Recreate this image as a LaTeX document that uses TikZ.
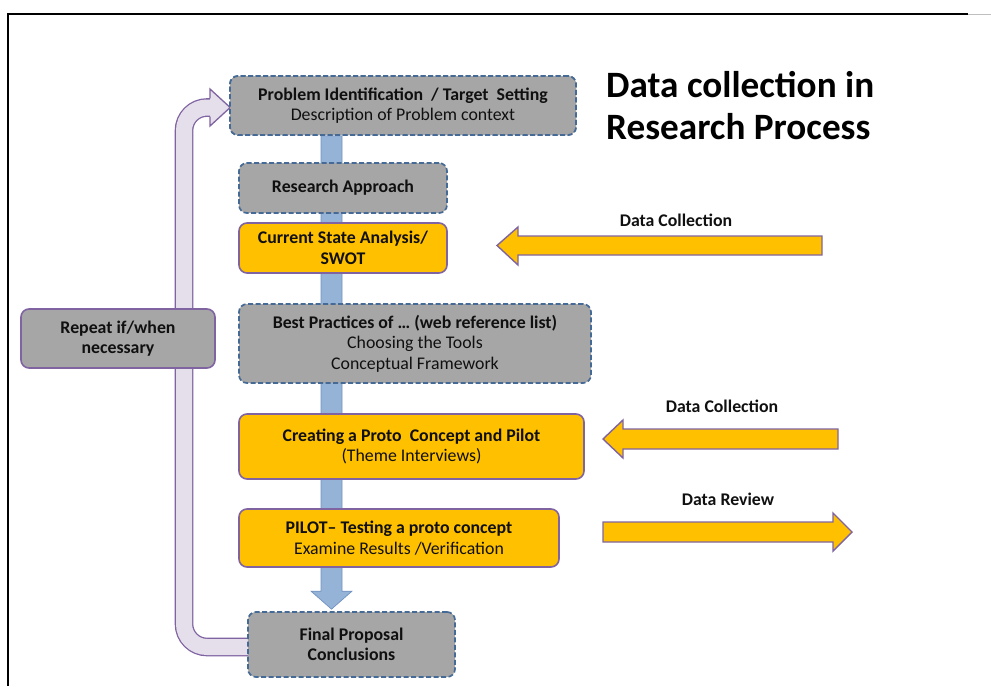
\documentclass[tikz,border=0pt]{standalone}
\usepackage{fontspec}
\setmainfont{Carlito}
\usetikzlibrary{calc}
\definecolor{boxgray}{HTML}{A6A6A6}
\definecolor{dashblue}{HTML}{466A96}
\definecolor{orangeF}{HTML}{FFC000}
\definecolor{purp}{HTML}{8064A2}
\definecolor{lav}{HTML}{E5DFEC}
\definecolor{barblue}{HTML}{95B3D7}
\definecolor{baredge}{HTML}{7092C0}
\definecolor{txt}{HTML}{101010}
\newcommand\boxfont{\fontsize{17.8}{20.5}\selectfont}
\tikzset{
  basebox/.style={rectangle, rounded corners=8pt, align=center, inner sep=0pt, text=txt, font=\boxfont},
  graybox/.style={basebox, draw=dashblue, fill=boxgray, dash pattern=on 5pt off 2.5pt, line width=1.7pt},
  orangebox/.style={basebox, draw=purp, fill=orangeF, line width=1.6pt},
  repbox/.style={basebox, draw=purp, fill=boxgray, line width=1.6pt},
  boxsize/.style 2 args={minimum width=#1pt, minimum height=#2pt},
  fatarrow/.style={draw=purp, fill=orangeF, line width=1.4pt, line join=miter},
  lbl/.style={font=\boxfont\bfseries, text=txt, inner sep=0pt},
  titlefont/.style={font=\fontsize{37.2}{43}\selectfont\bfseries, text=black, inner sep=0pt, anchor=base west}
}
\begin{document}
\begin{tikzpicture}[x=1pt,y=-1pt]
\useasboundingbox (0,0) rectangle (991,686);
% frame
\draw[line width=1.6pt] (7,14) -- (968,14);
\draw[black!25, line width=0.8pt] (968,14.3) -- (991,14.3);
\draw[line width=2pt] (8,13.2) -- (8,686);

% problem box (named first so the connectors can use it)
\node[graybox, boxsize={346}{59}] (prob) at (403,105.5) {\textbf{Problem Identification\ \ / Target\ \ Setting}\\Description of Problem context};
% blue connector
\coordinate (barx) at (331.5,0);
\coordinate (bt) at (prob.south -| barx);
\path node[graybox, boxsize={207}{65}, draw=none, fill=none] (fpx) at (351.5,644.5) {};
\coordinate (bb) at ($(fpx.north -| barx)+(0,-2)$);
\filldraw[fill=barblue, draw=baredge, line width=0.7pt]
  ($(bt)+(-10.5,0)$) -- ($(bb)+(-10.5,-18)$) -- ($(bb)+(-20.5,-18)$) -- (bb)
  -- ($(bb)+(20.5,-18)$) -- ($(bb)+(10.5,-18)$) -- ($(bt)+(10.5,0)$) -- cycle;

% purple return arrow
\coordinate (tip) at ($(prob.west)+(1,2)$);
\draw[line width=1.3pt, draw=purp, double=lav, double distance=16pt, rounded corners=23pt]
  ($(fpx.west)+(2,2.5)$) -- (184,647) -- (184,107.5) -- (211,107.5);
\fill[lav] (210,98.3) -- (210,89) -- (tip) -- (210,126) -- (210,116.7) -- cycle;
\draw[purp, line width=1.3pt, line join=miter] (210,98.3) -- (210,89) -- (tip) -- (210,126) -- (210,116.7);

% redraw the problem box on top of the bar
\node[graybox, boxsize={346}{59}] at (prob) {\textbf{Problem Identification\ \ / Target\ \ Setting}\\Description of Problem context};

\node[graybox, boxsize={208}{50}] (ra) at (343,188) {\textbf{Research Approach}};
\node[orangebox, boxsize={208}{50}] (csa) at (343,248) {\textbf{Current State Analysis/}\\\textbf{SWOT}};
\node[graybox, boxsize={352}{79}] (bp) at (415,343.5) {\textbf{Best Practices of … (web reference list)}\\Choosing the Tools\\Conceptual Framework};
\node[orangebox, boxsize={345}{65}] (cp) at (411.5,446.5) {\textbf{Creating a Proto\ \ Concept and Pilot}\\(Theme Interviews)};
\node[orangebox, boxsize={320}{58}] (pil) at (399,538) {\textbf{PILOT– Testing a proto concept}\\Examine Results /Verification};
\node[graybox, boxsize={207}{65}] (fp) at (fpx) {\textbf{Final Proposal}\\\textbf{Conclusions}};
\node[repbox, boxsize={194}{59}] (rep) at (118,338.5) {\textbf{Repeat if/when}\\\textbf{necessary}};

% title
\node[titlefont] (t1) at (606,97) {Data collection in};
\node[titlefont] (t2) at (606,139.5) {Research Process};

% data arrows
\filldraw[fatarrow] (822,236) -- (518,236) -- (518,227) -- (497,245.5) -- (518,265) -- (518,255) -- (822,255) -- cycle;
\node[lbl] (l1) at (676,220) {Data Collection};
\filldraw[fatarrow] (838,429) -- (623,429) -- (623,420) -- (603,439) -- (623,458) -- (623,449) -- (838,449) -- cycle;
\node[lbl] (l2) at (722,406) {Data Collection};
\filldraw[fatarrow] (603,522) -- (833,522) -- (833,513) -- (852,532) -- (833,551) -- (833,542) -- (603,542) -- cycle;
\node[lbl] (l3) at (728,499) {Data Review};
\end{tikzpicture}
\end{document}
